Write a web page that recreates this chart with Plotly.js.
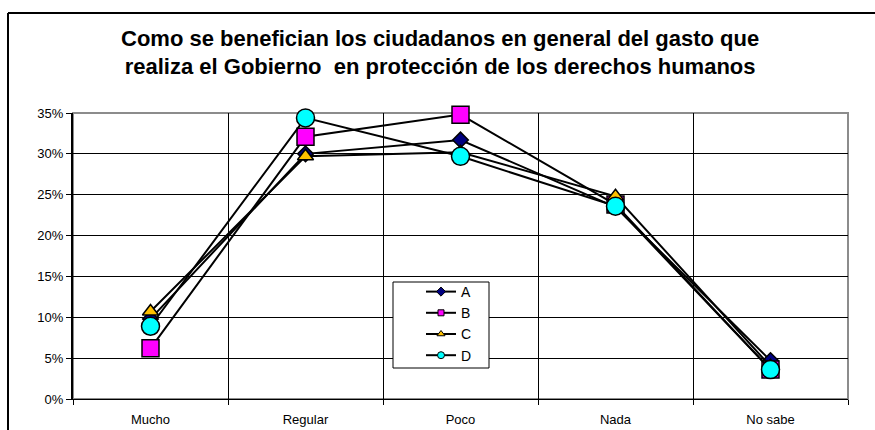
<!DOCTYPE html>
<html>
<head>
<meta charset="utf-8">
<script src="https://cdn.plot.ly/plotly-3.0.1.min.js"></script>
<style>
  html, body { margin: 0; padding: 0; background: #fff; overflow: hidden; }
  #chart { width: 875px; height: 430px; }
</style>
</head>
<body>
<div id="chart"></div>
<script>
// categories and series (shares of respondents)
const categories = ['Mucho', 'Regular', 'Poco', 'Nada', 'No sabe'];
const serieA = [0.098, 0.300, 0.317, 0.235, 0.047];
const serieB = [0.062, 0.321, 0.348, 0.238, 0.036];
const serieC = [0.107, 0.297, 0.302, 0.248, 0.040];
const serieD = [0.089, 0.344, 0.297, 0.236, 0.036];
const seriesNames = ['A', 'B', 'C', 'D'];
const yTicks = [0, 0.05, 0.10, 0.15, 0.20, 0.25, 0.30, 0.35];

const styles = [
    { symbol: 'diamond', color: '#000080', size: 12, legendSize: 7 },
    { symbol: 'square', color: '#FF00FF', size: 17, legendSize: 6 },
    { symbol: 'triangle-up', color: '#FFC000', size: 14, legendSize: 7 },
    { symbol: 'circle', color: '#00FFFF', size: 18, legendSize: 7 }
];

const allSeries = [serieA, serieB, serieC, serieD];
const traces = [];

allSeries.forEach((vals, i) => {
    const s = styles[i];
    traces.push({
        x: categories,
        y: vals,
        type: 'scatter',
        mode: 'lines+markers',
        name: seriesNames[i],
        showlegend: false,
        line: { color: '#000', width: 2 },
        marker: { symbol: s.symbol, color: s.color, size: s.size, line: { color: '#000', width: 1.5 } },
        cliponaxis: false
    });
});

// legend-only entries with small markers, like the original
allSeries.forEach((vals, i) => {
    const s = styles[i];
    traces.push({
        x: [null],
        y: [null],
        type: 'scatter',
        mode: 'lines+markers',
        name: seriesNames[i],
        line: { color: '#000', width: 2 },
        marker: { symbol: s.symbol, color: s.color, size: s.legendSize, line: { color: '#000', width: 1 } }
    });
});

// plot area in pixels: x 73..848, y 113..399
const plotW = 775, plotH = 286;
const px = v => (v - 73) / plotW;
const py = v => (399 - v) / plotH;

const layout = {
    width: 875,
    height: 430,
    margin: { l: 73, r: 27, t: 113, b: 31 },
    paper_bgcolor: '#fff',
    plot_bgcolor: '#fff',
    font: { family: 'Liberation Sans, Arial, sans-serif', size: 13, color: '#000' },
    title: {
        text: 'Como se benefician los ciudadanos en general del gasto que<br>realiza el Gobierno  en protección de los derechos humanos',
        font: { family: 'Liberation Sans, Arial, sans-serif', size: 22, color: '#000', weight: 'bold' },
        x: 0.503,
        xanchor: 'center',
        y: 0.894,
        yanchor: 'middle'
    },
    xaxis: {
        type: 'category',
        range: [-0.5, 4.5],
        tickson: 'boundaries',
        showgrid: true,
        gridcolor: '#000',
        gridwidth: 1,
        showline: true,
        linecolor: '#000',
        linewidth: 1,
        ticks: 'outside',
        ticklen: 5,
        tickcolor: '#000',
        ticklabelstandoff: 8,
        tickfont: { size: 13 },
        fixedrange: true
    },
    yaxis: {
        range: [0, 0.35],
        tickvals: yTicks,
        tickformat: '.0%',
        showgrid: true,
        gridcolor: '#000',
        gridwidth: 1,
        zeroline: false,
        showline: true,
        linecolor: '#000',
        linewidth: 2,
        ticks: 'outside',
        ticklen: 5,
        tickcolor: '#000',
        tickfont: { size: 13 },
        fixedrange: true
    },
    legend: {
        x: px(421),
        y: py(276),
        xanchor: 'left',
        yanchor: 'top',
        bgcolor: 'rgba(0,0,0,0)',
        borderwidth: 0,
        font: { size: 14 },
        tracegroupgap: 0
    },
    shapes: [
        // plot area border (top/right gray)
        { type: 'rect', xref: 'paper', yref: 'paper', x0: 0, x1: 1, y0: 0, y1: 1,
          line: { color: '#8c8c8c', width: 2 }, layer: 'below' },
        // legend box
        { type: 'rect', xref: 'paper', yref: 'paper',
          x0: px(393), x1: px(489), y0: py(368), y1: py(282),
          fillcolor: '#fff', line: { color: '#000', width: 1 }, layer: 'above' },
        // outer chart frame: only top and left edges are in view
        { type: 'line', xref: 'paper', yref: 'paper',
          x0: px(8), x1: px(875), y0: py(13), y1: py(13),
          line: { color: '#000', width: 2 } },
        { type: 'line', xref: 'paper', yref: 'paper',
          x0: px(8), x1: px(8), y0: py(13), y1: py(430),
          line: { color: '#000', width: 2 } }
    ]
};

Plotly.newPlot('chart', traces, layout, { displayModeBar: false, staticPlot: true });
</script>
</body>
</html>
